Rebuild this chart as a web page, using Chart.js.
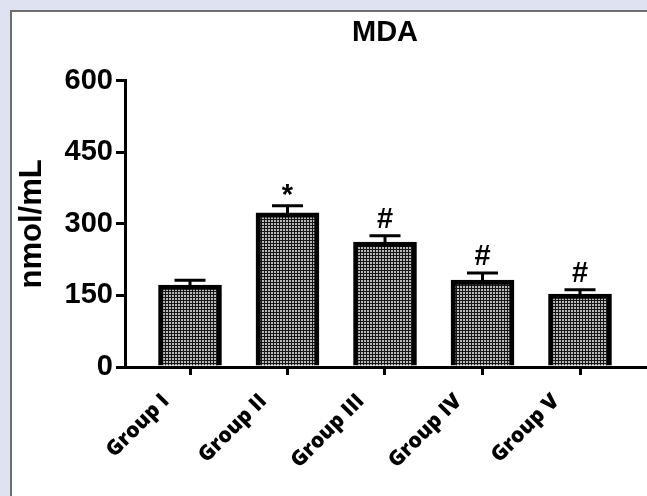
<!DOCTYPE html>
<html><head><meta charset="utf-8">
<script src="https://cdn.jsdelivr.net/npm/chart.js@4/dist/chart.umd.min.js"></script>
<style>
html,body{margin:0;padding:0;width:647px;height:496px;overflow:hidden;background:#dfe3f1;}
#panel{position:absolute;left:10px;top:10px;right:0;bottom:0;background:#fff;border-left:2px solid #6e6e6e;border-top:2px solid #6e6e6e;}
#wrap{position:absolute;left:0;top:0;width:647px;height:496px;}
</style></head><body>
<div id="panel"></div>
<div id="wrap"><canvas id="c" width="647" height="496"></canvas></div>
<script>
const groups = ['Group I', 'Group II', 'Group III', 'Group IV', 'Group V'];
const mdaMeans = [172, 323, 262, 182, 153];
const mdaErrors = [10, 15, 13, 15, 9];
const significance = ['', '*', '#', '#', '#'];
const yTicks = [0, 150, 300, 450, 600];

const pc = document.createElement('canvas');
pc.width = 3; pc.height = 3;
const pctx = pc.getContext('2d');
pctx.fillStyle = '#161616'; pctx.fillRect(0, 0, 3, 3);
pctx.fillStyle = '#b8b8b8'; pctx.fillRect(1, 1, 2, 2);
const ctx0 = document.getElementById('c').getContext('2d');
const hatch = ctx0.createPattern(pc, 'repeat');

const errorBars = {
  id: 'errorBars',
  afterDatasetsDraw(chart) {
    const ctx = chart.ctx;
    const y = chart.scales.y;
    const meta = chart.getDatasetMeta(0);
    meta.data.forEach((bar, i) => {
      const cx = bar.x;
      const yTop = y.getPixelForValue(mdaMeans[i]);
      const yCap = y.getPixelForValue(mdaMeans[i] + mdaErrors[i]);
      ctx.save();
      ctx.strokeStyle = '#000';
      ctx.lineWidth = 3;
      ctx.beginPath();
      ctx.moveTo(cx, yTop); ctx.lineTo(cx, yCap);
      ctx.moveTo(cx - 15.5, yCap); ctx.lineTo(cx + 15.5, yCap);
      ctx.stroke();
      if (significance[i]) {
        ctx.fillStyle = '#000';
        ctx.textAlign = 'center';
        ctx.textBaseline = 'alphabetic';
        ctx.font = 'bold 29px "Liberation Sans", Arial, sans-serif';
        const off = significance[i] === '*' ? 2 : 8;
        ctx.fillText(significance[i], cx, yCap - off);
      }
      ctx.restore();
    });
  }
};

new Chart(document.getElementById('c'), {
  type: 'bar',
  data: {
    datasets: [{
      data: groups.map((g, i) => ({ x: i, y: mdaMeans[i] })),
      backgroundColor: hatch,
      borderColor: '#000',
      borderWidth: 5,
      borderSkipped: 'bottom',
      barThickness: 63
    }]
  },
  options: {
    responsive: false,
    animation: false,
    layout: { padding: { top: 0, right: 2, bottom: 0, left: 0 } },
    plugins: {
      legend: { display: false },
      tooltip: { enabled: false },
      title: {
        display: true,
        text: 'MDA',
        fullSize: false,
        color: '#000',
        font: { family: '"Liberation Sans", Arial, sans-serif', size: 29, weight: 'bold' },
        padding: { top: 16, bottom: 30 }
      }
    },
    scales: {
      x: {
        type: 'linear',
        min: -2 / 3,
        max: 14 / 3,
        offset: false,
        afterBuildTicks: s => { s.ticks = groups.map((g, i) => ({ value: i })); },
        afterFit: s => { s.height = 129; },
        border: { display: true, color: '#000', width: 3 },
        grid: { display: true, offset: false, drawOnChartArea: false, drawTicks: true, tickLength: 8, tickWidth: 3, tickColor: '#000', color: '#000', lineWidth: 3 },
        ticks: {
          autoSkip: false,
          minRotation: 45,
          maxRotation: 45,
          padding: 14,
          labelOffset: -24,
          color: '#000',
          font: { family: '"Open Sans", sans-serif', size: 21, weight: '800' },
          callback: v => groups[Math.round(v)]
        }
      },
      y: {
        min: 0,
        max: 600,
        afterBuildTicks: s => { s.ticks = yTicks.map(v => ({ value: v })); },
        afterFit: s => { s.width = 125; },
        border: { display: true, color: '#000', width: 3 },
        grid: { display: true, drawOnChartArea: false, drawTicks: true, tickLength: 9, tickWidth: 3, tickColor: '#000', color: '#000', lineWidth: 3 },
        ticks: {
          padding: 3,
          color: '#000',
          font: { family: '"Liberation Sans", Arial, sans-serif', size: 29, weight: 'bold' }
        },
        title: {
          display: true,
          text: 'nmol/mL',
          color: '#000',
          font: { family: '"Liberation Sans", Arial, sans-serif', size: 31, weight: 'bold' },
          padding: { top: 14, bottom: 0 }
        }
      }
    }
  },
  plugins: [errorBars]
});
</script>
</body></html>
